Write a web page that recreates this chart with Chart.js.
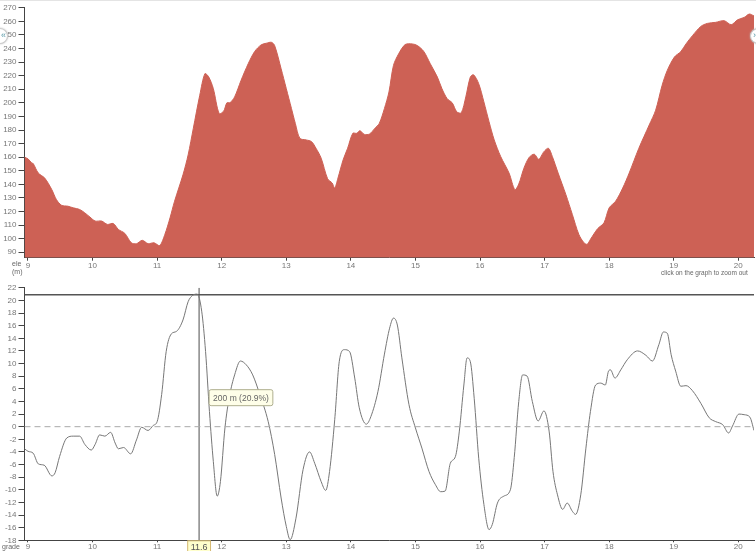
<!DOCTYPE html>
<html>
<head>
<meta charset="utf-8">
<script src="https://cdn.jsdelivr.net/npm/chart.js@4"></script>
<style>
  body { margin: 0; width: 756px; height: 551px; overflow: hidden; background: #fff; font-family: "Liberation Sans", Arial, sans-serif; }
  #wrap { position: relative; width: 756px; height: 551px; border-top: 1px solid #e4e4e4; box-sizing: border-box; }
  canvas { position: absolute; left: 0; }
  .lbl { position: absolute; font-size: 7px; color: #666; line-height: 8px; }
  .nav { position: absolute; width: 14px; height: 14px; border-radius: 50%; background: #fff; border: 1px solid #ccc;
         box-shadow: 0 0 2px #bbb; color: #5a9aa8; font-size: 9px; line-height: 13px; text-align: center; }
</style>
</head>
<body>
<div id="wrap">
  <canvas id="eleChart" width="756" height="280" style="top:0"></canvas>
  <canvas id="gradeChart" width="756" height="271" style="top:280px"></canvas>
  <div class="lbl" style="left:12px; top:259px">ele<br>(m)</div>
  <div class="lbl" style="left:661px; top:268px; font-size:6.5px">click on the graph to zoom out</div>
  <div class="lbl" style="left:2px; top:542px">grade</div>
  <div class="nav" style="left:-9px; top:27px; text-align:right; padding-right:1px">«</div>
  <div class="nav" style="left:750px; top:27px; text-align:left; padding-left:2px">›</div>
</div>
<script>
// x axis (km)
const kmTicks = [9, 10, 11, 12, 13, 14, 15, 16, 17, 18, 19, 20];
const kmMin = 8.946;
const kmMax = 20.243;

// elevation profile
const eleTicks = [90, 100, 110, 120, 130, 140, 150, 160, 170, 180, 190, 200, 210, 220, 230, 240, 250, 260, 270];
const eleKm = [8.946, 9.0, 9.06, 9.08, 9.16, 9.26, 9.37, 9.44, 9.52, 9.62, 9.7, 9.8, 9.88, 9.96, 10.04, 10.14, 10.23,
  10.32, 10.4, 10.5, 10.6, 10.68, 10.77, 10.86, 10.95, 11.04, 11.12, 11.2, 11.27, 11.4, 11.48, 11.56, 11.66, 11.74,
  11.8, 11.87, 11.96, 12.03, 12.08, 12.13, 12.2, 12.3, 12.41, 12.51, 12.61, 12.69, 12.77, 12.82, 12.92, 13.0, 13.08,
  13.14, 13.21, 13.31, 13.39, 13.46, 13.54, 13.64, 13.71, 13.75, 13.8, 13.88, 13.95, 14.03, 14.09, 14.14, 14.21,
  14.29, 14.37, 14.44, 14.52, 14.59, 14.66, 14.74, 14.84, 14.95, 15.03, 15.13, 15.23, 15.34, 15.41, 15.49, 15.57,
  15.64, 15.71, 15.78, 15.85, 15.9, 15.98, 16.06, 16.14, 16.22, 16.32, 16.45, 16.54, 16.6, 16.68, 16.76, 16.84,
  16.91, 16.99, 17.06, 17.12, 17.21, 17.33, 17.43, 17.53, 17.61, 17.66, 17.71, 17.82, 17.92, 18.0, 18.1, 18.21,
  18.31, 18.46, 18.62, 18.72, 18.82, 18.9, 19.01, 19.11, 19.19, 19.29, 19.42, 19.52, 19.65, 19.78, 19.89, 19.99,
  20.09, 20.17, 20.243];
const eleM = [160, 158.8, 155.6, 155.4, 148.3, 144.6, 136, 128.8, 124.6, 123.9, 122.7, 121.5, 119, 115.9, 113, 113,
  110.5, 111.2, 106.8, 103.9, 97, 96.3, 98.8, 96.3, 97, 95, 103.2, 115.4, 127.6, 147, 161.7, 181.2, 205.6, 221.5,
  219, 210.5, 192.2, 193.9, 200, 200.2, 204.4, 216.6, 228.8, 237.8, 242.7, 243.9, 244.6, 242.2, 225.1, 210.5, 195.9,
  184.9, 173.9, 172.7, 171.5, 166.6, 159.3, 144.1, 141, 137.3, 144.6, 158, 166.6, 177.6, 177.6, 179.5, 176.8,
  177.1, 181.2, 184.9, 195.9, 208, 227.6, 236.1, 242.9, 243.4, 242.2, 237.8, 228.8, 219, 210.5, 203.2, 200,
  193.4, 192.7, 204.4, 219, 220.7, 214.1, 200.7, 186.1, 172.7, 160.5, 148.3, 136.1, 140.2, 151.9, 159.8, 162.2,
  158.5, 164.1, 166.6, 160.5, 148.3, 132.4, 117.8, 103.2, 97, 95.9, 99.5, 107.3, 111.7, 122.7, 127.6, 137.3,
  148.3, 166.6, 183.7, 194.6, 212.9, 223.9, 233.7, 237.8, 243.4, 249.5, 256.3, 258.5, 259.3, 260.5, 257.6, 261.2,
  262.9, 265.4, 264];

// grade profile (%)
const gradeTicks = [-18, -16, -14, -12, -10, -8, -6, -4, -2, 0, 2, 4, 6, 8, 10, 12, 14, 16, 18, 20, 22];
const gradeKm = [8.946, 9.0, 9.08, 9.16, 9.25, 9.37, 9.42, 9.49, 9.6, 9.7, 9.8, 9.88, 9.98, 10.04, 10.11, 10.19,
  10.28, 10.35, 10.4, 10.48, 10.59, 10.68, 10.76, 10.86, 10.94, 11.0, 11.07, 11.14, 11.22, 11.3, 11.4, 11.48, 11.55,
  11.62, 11.69, 11.75, 11.81, 11.87, 11.93, 11.98, 12.05, 12.12, 12.2, 12.29, 12.38, 12.48, 12.59, 12.72, 12.82,
  12.92, 13.0, 13.06, 13.15, 13.26, 13.36, 13.44, 13.54, 13.61, 13.67, 13.75, 13.82, 13.9, 13.98, 14.06, 14.13,
  14.24, 14.31, 14.42, 14.52, 14.6, 14.66, 14.72, 14.79, 14.9, 15.0, 15.1, 15.21, 15.31, 15.39, 15.46, 15.54,
  15.62, 15.68, 15.75, 15.8, 15.85, 15.91, 15.98, 16.06, 16.14, 16.19, 16.27, 16.37, 16.47, 16.53, 16.6, 16.66,
  16.73, 16.81, 16.9, 16.99, 17.07, 17.13, 17.2, 17.28, 17.35, 17.43, 17.48, 17.56, 17.64, 17.71, 17.79, 17.87,
  17.94, 17.99, 18.02, 18.09, 18.18, 18.28, 18.44, 18.57, 18.67, 18.77, 18.84, 18.9, 18.96, 19.03, 19.11, 19.19,
  19.29, 19.42, 19.55, 19.65, 19.76, 19.85, 19.91, 20.01, 20.09, 20.18, 20.243];
const gradePct = [-3.5, -3.9, -4.2, -5.9, -6.1, -7.8, -7.3, -4.7, -1.8, -1.5, -1.5, -2.8, -3.7, -2.8, -1.3, -1.5,
  -0.9, -2.6, -3.5, -3.3, -4.3, -2.1, -0.1, -0.6, 0.2, 0.8, 5.1, 11.9, 14.7, 15.1, 16.9, 19.8, 20.8,
  21.0, 18.3, 11.9, 2.4, -5.5, -11.0, -8.7, -0.2, 4.8, 8.2, 10.4, 9.8, 8.2, 5.1, 0.8, -4.4,
  -11.3, -15.8, -17.9, -14.5, -6.8, -4.0, -5.8, -8.7, -10.1, -7.1, 1.1, 10.3, 12.2, 11.9, 7.7, 3.0,
  0.4, 1.6, 5.6, 11.5, 15.6, 17.2, 16.1, 10.9, 3.5, -0.2, -3.4, -7.1, -9.2, -10.3, -10.2, -5.8,
  -4.7, -0.7, 6.6, 10.9, 10.3, 4.5, -5.0, -12.3, -16.3, -15.5, -12.1, -11.0, -10.0, -4.9, 4.0, 8.2,
  8.0, 4.0, 0.9, 2.5, -0.7, -7.1, -10.8, -13.1, -12.1, -13.4, -13.9, -10.8, -3.4, 2.4, 6.6, 6.9,
  6.6, 8.8, 9.0, 7.7, 9.0, 10.6, 12.0, 11.3, 10.4, 13.0, 15.0, 14.8, 11.4, 8.8, 6.4, 6.5,
  5.7, 3.7, 1.4, 0.8, 0.3, -1.0, 0.1, 2.0, 1.9, 1.5, -0.6];

// hover cursor
const cursorKm = 11.65;
const cursorLabel = "11.6";
const cursorGrade = 20.9;
const tipText = "200 m (20.9%)";

const tickFont = { family: "Liberation Sans", size: 8 };

function pts(xs, ys) {
  return xs.map((x, i) => ({ x: x, y: ys[i] }));
}

function axisX(tickLen, height) {
  return {
    type: "linear",
    min: kmMin,
    max: kmMax,
    afterBuildTicks: (s) => { s.ticks = kmTicks.map((v) => ({ value: v })); },
    afterFit: (s) => { s.height = height; },
    border: { color: "#444", width: 1 },
    grid: { drawOnChartArea: false, tickLength: tickLen, tickColor: "#444" },
    ticks: { color: "#777", font: tickFont, padding: 0, maxRotation: 0 },
  };
}

function axisY(min, max, ticks) {
  return {
    min: min,
    max: max,
    afterBuildTicks: (s) => { s.ticks = ticks.map((v) => ({ value: v })); },
    afterFit: (s) => { s.width = 24.5; },
    border: { color: "#444", width: 1 },
    grid: { drawOnChartArea: false, tickLength: 6, tickColor: "#444" },
    ticks: { color: "#777", font: tickFont, padding: 2 },
  };
}

// Elevation chart
new Chart(document.getElementById("eleChart").getContext("2d"), {
  type: "line",
  data: {
    datasets: [
      {
        data: pts(eleKm, eleM),
        borderColor: "#cd6155",
        backgroundColor: "#cd6155",
        borderWidth: 1,
        fill: "start",
        pointRadius: 0,
        tension: 0.3,
      },
    ],
  },
  options: {
    responsive: false,
    animation: false,
    events: [],
    layout: { padding: { top: 5.3, right: 2, left: 0, bottom: 0 } },
    plugins: { legend: { display: false }, tooltip: { enabled: false } },
    scales: { x: axisX(3, 23.3), y: axisY(86, 270, eleTicks) },
  },
});

// cursor overlay: tooltip box and x label
const cursorOverlay = {
  id: "cursorOverlay",
  afterDraw(chart) {
    const ctx = chart.ctx;
    const px = chart.scales.x.getPixelForValue(cursorKm);
    const zeroY = chart.scales.y.getPixelForValue(0);
    ctx.save();
    // tooltip
    ctx.font = "8.5px 'Liberation Sans'";
    const w = ctx.measureText(tipText).width + 8;
    const bx = px + 10, by = zeroY - 37;
    ctx.beginPath();
    ctx.roundRect(bx, by, w, 16, 2);
    ctx.fillStyle = "#fefee8";
    ctx.fill();
    ctx.strokeStyle = "#aeae8e";
    ctx.lineWidth = 1;
    ctx.stroke();
    ctx.fillStyle = "#666";
    ctx.textBaseline = "middle";
    ctx.fillText(tipText, bx + 4, by + 8.5);
    // x label
    const bottom = chart.chartArea.bottom;
    ctx.font = "9px 'Liberation Sans'";
    const lw = ctx.measureText(cursorLabel).width + 6;
    ctx.fillStyle = "#ffffcc";
    ctx.fillRect(px - lw / 2, bottom + 0.5, lw, 12);
    ctx.strokeStyle = "#d4b872";
    ctx.strokeRect(px - lw / 2, bottom + 0.5, lw, 12);
    ctx.fillStyle = "#555";
    ctx.textAlign = "center";
    ctx.fillText(cursorLabel, px, bottom + 7);
    ctx.restore();
  },
};

// Grade chart
new Chart(document.getElementById("gradeChart").getContext("2d"), {
  type: "line",
  data: {
    datasets: [
      {
        data: pts([kmMin, kmMax], [0, 0]),
        borderColor: "#aaa",
        borderWidth: 1,
        borderDash: [6, 4],
        pointRadius: 0,
      },
      {
        data: pts(gradeKm, gradePct),
        borderColor: "#777",
        borderWidth: 1,
        pointRadius: 0,
        cubicInterpolationMode: "monotone",
      },
      {
        data: pts([kmMin, kmMax], [cursorGrade, cursorGrade]),
        borderColor: "#555",
        borderWidth: 1.5,
        pointRadius: 0,
      },
      {
        data: pts([cursorKm, cursorKm], [-18, 22]),
        borderColor: "#888",
        borderWidth: 1.5,
        pointRadius: 0,
      },
    ],
  },
  options: {
    responsive: false,
    animation: false,
    events: [],
    layout: { padding: { top: 6.7, right: 2, left: 0, bottom: 0 } },
    plugins: { legend: { display: false }, tooltip: { enabled: false } },
    scales: { x: axisX(2, 11.7), y: axisY(-18, 22, gradeTicks) },
  },
  plugins: [cursorOverlay],
});
</script>
</body>
</html>
